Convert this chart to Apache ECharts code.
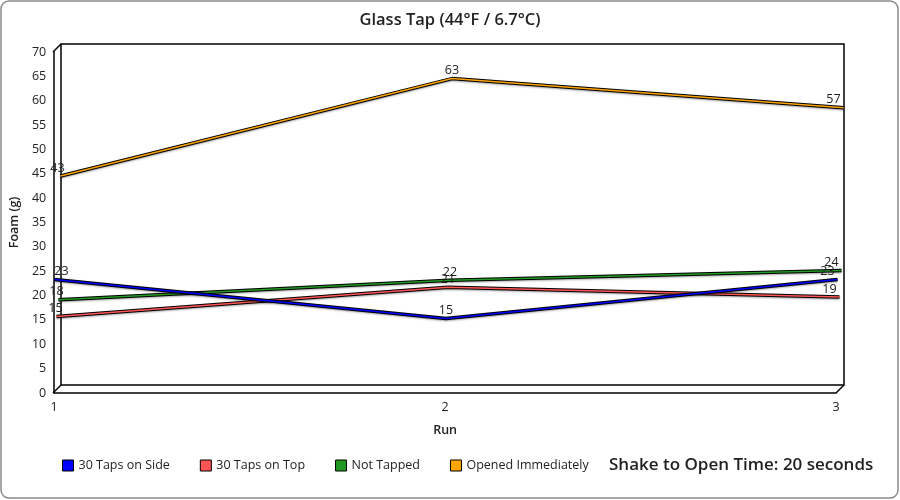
<!DOCTYPE html>
<html>
<head>
<meta charset="utf-8">
<script src="https://cdn.jsdelivr.net/npm/echarts@6/dist/echarts.min.js"></script>
<style>html,body{margin:0;padding:0;background:#fff}#c{width:900px;height:500px}</style>
</head>
<body>
<div id="c"></div>
<script>
// ---- data ----
const categories = ['1', '2', '3'];
const sideTaps = [23, 15, 23];
const topTaps = [15, 21, 19];
const notTapped = [18, 22, 24];
const openedImmediately = [43, 63, 57];
const seriesNames = ['30 Taps on Side', '30 Taps on Top', 'Not Tapped', 'Opened Immediately'];
const yTicks = { min: 0, max: 70, interval: 5 };
const titleText = 'Glass Tap (44°F / 6.7°C)';
const subText = 'Shake to Open Time: 20 seconds';

// ---- layout / style ----
const FONT = 'Open Sans';
const TXT = '#222';
const G = { left: 53, top: 52, width: 783, height: 341 };
const DEPTH = 8;
const seriesStyle = [
  { color: '#0000ff', depth: 1.5, firstOffset: [7, 0] },
  { color: '#ff5555', depth: 3.5, firstOffset: [-1, 0] },
  { color: '#229922', depth: 5.5, firstOffset: [-2, 0] },
  { color: '#ffa500', depth: 7.5, firstOffset: [-3, 0] }
];
const values = [sideTaps, topTaps, notTapped, openedImmediately];

const grids = [
  { left: G.left, top: G.top, width: G.width, height: G.height },
  { left: G.left + DEPTH, top: G.top - DEPTH, width: G.width, height: G.height,
    show: true, borderColor: '#000', borderWidth: 1.5, backgroundColor: 'transparent' }
];
seriesStyle.forEach(s => grids.push({ left: G.left + s.depth, top: G.top - s.depth, width: G.width, height: G.height }));

const xAxes = [], yAxes = [];
for (let i = 0; i < grids.length; i++) {
  const front = i === 0;
  xAxes.push({
    type: 'category', data: categories, boundaryGap: false, gridIndex: i, show: front,
    name: front ? 'Run' : '', nameLocation: 'middle', nameGap: 31,
    nameTextStyle: { fontFamily: FONT, fontWeight: 600, fontSize: 12.5, color: TXT },
    axisLine: { show: front, lineStyle: { color: '#000', width: 1.5 } },
    axisTick: { show: false },
    axisLabel: { show: front, margin: 8, fontFamily: FONT, fontSize: 12.5, color: TXT },
    splitLine: { show: false }
  });
  yAxes.push({
    type: 'value', min: yTicks.min, max: yTicks.max, interval: yTicks.interval, gridIndex: i, show: front,
    name: front ? 'Foam (g)' : '', nameLocation: 'middle', nameGap: 27, nameRotate: 90,
    nameTextStyle: { fontFamily: FONT, fontWeight: 600, fontSize: 12.5, color: TXT },
    axisLine: { show: front, lineStyle: { color: '#000', width: 1.5 } },
    axisTick: { show: false },
    axisLabel: { show: front, margin: 8, fontFamily: FONT, fontSize: 12.5, color: TXT },
    splitLine: { show: false }
  });
}

const series = [];
values.forEach((vals, i) => {
  const st = seriesStyle[i];
  const zBase = 2 + (values.length - 1 - i) * 2; // front series drawn on top
  series.push({
    name: '_outline' + i, type: 'line', xAxisIndex: i + 2, yAxisIndex: i + 2,
    data: vals, showSymbol: false, symbol: 'none', silent: true, z: zBase, clip: false,
    lineStyle: { color: '#000', width: 3.5, shadowColor: 'rgba(0,0,0,0.35)', shadowBlur: 2, shadowOffsetY: 1 },
    itemStyle: { color: '#000' }
  });
  series.push({
    name: seriesNames[i], type: 'line', xAxisIndex: i + 2, yAxisIndex: i + 2,
    data: vals, showSymbol: false, symbol: 'none', z: zBase + 1, clip: false,
    lineStyle: { color: st.color, width: 1.5 },
    itemStyle: { color: st.color },
    emphasis: { disabled: true }
  });
  series.push({
    name: '_label' + i, type: 'line', xAxisIndex: i + 2, yAxisIndex: i + 2,
    data: vals.map((v, k) => ({
      value: v,
      label: { offset: k === vals.length - 1 ? [-10, 0] : (k === 0 ? st.firstOffset : [0, 0]) }
    })),
    symbol: 'circle', symbolSize: 1, showSymbol: true, z: 30, clip: false, silent: true,
    lineStyle: { opacity: 0 },
    itemStyle: { color: st.color, opacity: 0 },
    label: { show: true, position: 'top', distance: 1, fontFamily: FONT, fontSize: 12.5, color: TXT, opacity: 1 },
    emphasis: { disabled: true }
  });
});

const chart = echarts.init(document.getElementById('c'));
const fx0 = G.left, fy0 = G.top, fx1 = G.left + G.width, fy1 = G.top + G.height;
chart.setOption({
  animation: false,
  backgroundColor: '#fff',
  title: [
    { text: titleText, left: 'center', top: 7, textStyle: { fontFamily: FONT, fontSize: 16.5, fontWeight: 600, color: TXT } },
    { text: subText, left: 604, top: 452, textStyle: { fontFamily: FONT, fontSize: 17, fontWeight: 600, color: TXT } }
  ],
  legend: {
    data: seriesNames.map((n, i) => ({ name: n, itemStyle: { color: seriesStyle[i].color, borderColor: '#000', borderWidth: 1, opacity: 1 } })),
    left: 57, top: 454, icon: 'rect', itemWidth: 11, itemHeight: 11, itemGap: 30,
    textStyle: { fontFamily: FONT, fontSize: 12.5, color: TXT }
  },
  grid: grids,
  xAxis: xAxes,
  yAxis: yAxes,
  series: series,
  graphic: [
    { type: 'rect', shape: { x: 1, y: 1, width: 897, height: 497, r: 8 }, style: { fill: 'none', stroke: '#8a8a8a', lineWidth: 1.5 }, z: -1 },
    { type: 'line', shape: { x1: fx0, y1: fy0, x2: fx0 + DEPTH, y2: fy0 - DEPTH }, style: { stroke: '#000', lineWidth: 1.5 } },
    { type: 'line', shape: { x1: fx0, y1: fy1, x2: fx0 + DEPTH, y2: fy1 - DEPTH }, style: { stroke: '#000', lineWidth: 1.5 } },
    { type: 'line', shape: { x1: fx1, y1: fy1, x2: fx1 + DEPTH, y2: fy1 - DEPTH }, style: { stroke: '#000', lineWidth: 1.5 } }
  ]
});
</script>
</body>
</html>
